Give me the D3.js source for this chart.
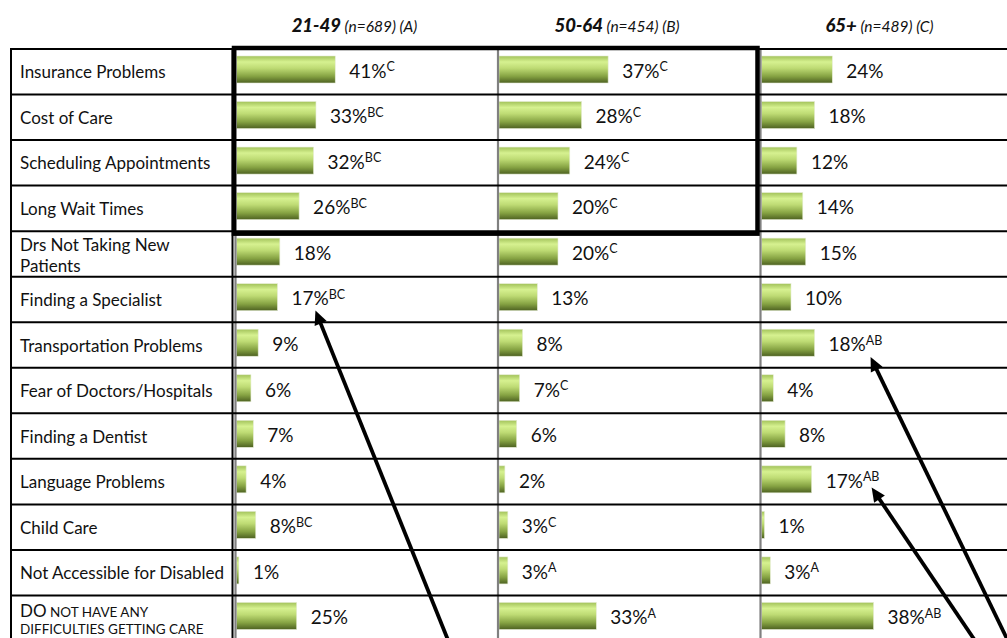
<!DOCTYPE html>
<html><head><meta charset="utf-8">
<script src="https://cdn.jsdelivr.net/npm/d3@7"></script>
<style>
body{margin:0;background:#fff;}
svg{display:block;font-family:Lato, "Open Sans", sans-serif;}
</style>
</head><body>
<svg id="chart" width="1007" height="638"></svg>
<script>
// ---------- data ----------
const categories = [
  "Insurance Problems",
  "Cost of Care",
  "Scheduling Appointments",
  "Long Wait Times",
  "Drs Not Taking New\nPatients",
  "Finding a Specialist",
  "Transportation Problems",
  "Fear of Doctors/Hospitals",
  "Finding a Dentist",
  "Language Problems",
  "Child Care",
  "Not Accessible for Disabled",
  "DO NOT HAVE ANY\nDIFFICULTIES GETTING CARE"
];
const groups = ["21-49", "50-64", "65+"];
const groupNotes = ["(n=689) (A)", "(n=454) (B)", "(n=489) (C)"];
const valuesA = [41, 33, 32, 26, 18, 17, 9, 6, 7, 4, 8, 1, 25];
const valuesB = [37, 28, 24, 20, 20, 13, 8, 7, 6, 2, 3, 3, 33];
const valuesC = [24, 18, 12, 14, 15, 10, 18, 4, 8, 17, 1, 3, 38];
const sigA = ["C", "BC", "BC", "BC", "", "BC", "", "", "", "", "BC", "", ""];
const sigB = ["C", "C", "C", "C", "C", "", "", "C", "", "", "C", "A", "A"];
const sigC = ["", "", "", "", "", "", "AB", "", "", "AB", "", "A", "AB"];
const axisMax = [109, 89, 89];
const highlightRows = 4;               // first four rows boxed for groups A and B
const annotations = [
  { category: "Finding a Specialist", group: "21-49", dx: 24, dy: 11, tail: [450, 645] },
  { category: "Transportation Problems", group: "65+", dx: 42, dy: 12, tail: [1010, 645] },
  { category: "Language Problems", group: "65+", dx: 46, dy: 6, tail: [978, 645] }
];
const seriesValues = [valuesA, valuesB, valuesC];
const seriesSig = [sigA, sigB, sigC];

// ---------- layout ----------
const svg = d3.select("#chart");
const tableLeft = 11, labelRight = 232.5, tableTop = 49, tableBottom = 641, W = 1007;

const y = d3.scaleBand().domain(categories).range([tableTop, tableBottom]);
const xCol = d3.scaleBand().domain(groups).range([236.5, 1024]);
const xVal = groups.map((g, i) => d3.scaleLinear().domain([0, axisMax[i]]).range([0, xCol.bandwidth()]));

// gradient
const defs = svg.append("defs");
const grad = defs.append("linearGradient").attr("id", "barGrad")
  .attr("x1", 0).attr("y1", 0).attr("x2", 0).attr("y2", 1);
[[0, "#a2c25a"], [0.22, "#d6f190"], [0.45, "#bedb74"], [0.75, "#86a343"], [1, "#4d6121"]]
  .forEach(([o, c]) => grad.append("stop").attr("offset", o).attr("stop-color", c));

// bars
groups.forEach((g, gi) => {
  const rows = categories.map((c, i) => ({ c, v: seriesValues[gi][i], s: seriesSig[gi][i] }));
  const gg = svg.append("g");
  gg.selectAll("rect").data(rows).join("rect")
    .attr("x", xCol(g))
    .attr("y", d => y(d.c) + 7)
    .attr("width", d => xVal[gi](d.v))
    .attr("height", 27)
    .attr("fill", "url(#barGrad)")
    .attr("stroke", "#e4ecd2").attr("stroke-width", 0.6);

  const t = gg.selectAll("text").data(rows).join("text")
    .attr("x", d => xCol(g) + xVal[gi](d.v) + 14)
    .attr("y", d => y(d.c) + y.bandwidth() / 2 + 6)
    .attr("font-size", 19).attr("fill", "#111");
  t.append("tspan").text(d => d.v + "%");
  t.filter(d => d.s).append("tspan").attr("font-size", 12.5).attr("dy", -6.5).text(d => d.s);
});

// gray axis lines per group
svg.append("g").selectAll("line").data(groups).join("line")
  .attr("x1", g => xCol(g) - 1).attr("x2", g => xCol(g) - 1)
  .attr("y1", tableTop).attr("y2", tableBottom)
  .attr("stroke", "#808080").attr("stroke-width", 2.2);

// horizontal row lines
const bounds = categories.map(c => y(c)).concat([tableBottom]);
svg.append("g").selectAll("line").data(bounds).join("line")
  .attr("x1", tableLeft).attr("x2", W + 5)
  .attr("y1", d => d).attr("y2", d => d)
  .attr("stroke", "#000").attr("stroke-width", 2);

// label column borders
svg.append("g").selectAll("line").data([tableLeft, labelRight]).join("line")
  .attr("x1", d => d).attr("x2", d => d)
  .attr("y1", tableTop - 1).attr("y2", tableBottom)
  .attr("stroke", "#000").attr("stroke-width", 2);

// highlight box
const boxTop = y(categories[0]) - 1;
const boxBottom = y(categories[highlightRows]) + 2.5;
svg.append("rect")
  .attr("x", xCol(groups[0]) - 2.5)
  .attr("y", boxTop)
  .attr("width", (xCol(groups[2]) - 4) - (xCol(groups[0]) - 2.5))
  .attr("height", boxBottom - boxTop)
  .attr("fill", "none").attr("stroke", "#000").attr("stroke-width", 4.5);

// category labels
svg.append("g").selectAll("text").data(categories).join("text")
  .attr("x", 20).attr("font-size", 17).attr("fill", "#111")
  .each(function (c) {
    const el = d3.select(this);
    const cy = y(c) + y.bandwidth() / 2;
    const lines = c.split("\n");
    if (lines.length === 1) {
      el.attr("y", cy + 6.5).text(c);
    } else if (c === c.toUpperCase()) {
      el.attr("y", cy - 1.5);
      const first = lines[0].split(" ");
      el.append("tspan").attr("font-size", 17).text(first[0]);
      el.append("tspan").attr("font-size", 13.5).text(" " + first.slice(1).join(" "));
      el.append("tspan").attr("x", 20).attr("y", cy + 15.5).attr("font-size", 13.5).text(lines[1]);
    } else {
      el.append("tspan").attr("x", 20).attr("y", cy - 2.5).text(lines[0]);
      el.append("tspan").attr("x", 20).attr("y", cy + 18.5).text(lines[1]);
    }
  });

// headers
const hdr = svg.append("g").selectAll("text").data(groups).join("text")
  .attr("x", g => xCol(g) + 118).attr("y", 32)
  .attr("text-anchor", "middle").attr("fill", "#111").attr("font-style", "italic");
hdr.append("tspan").attr("font-weight", 900).attr("font-size", 18.5).text(g => g);
hdr.append("tspan").attr("font-size", 15.5).text((g, i) => " " + groupNotes[i]);

// annotation arrows
const arrows = svg.append("g");
annotations.forEach(a => {
  const gi = groups.indexOf(a.group);
  const ci = categories.indexOf(a.category);
  const lx = xCol(a.group) + xVal[gi](seriesValues[gi][ci]) + 14;
  const tip = [lx + a.dx, y(a.category) + y.bandwidth() / 2 + a.dy];
  const [tx, ty] = a.tail;
  const len = Math.hypot(tip[0] - tx, tip[1] - ty);
  const ux = (tip[0] - tx) / len, uy = (tip[1] - ty) / len;
  const headLen = 14, headW = 6.5;
  const bx = tip[0] - ux * headLen, by = tip[1] - uy * headLen;
  arrows.append("line")
    .attr("x1", tx).attr("y1", ty).attr("x2", bx + ux * 2).attr("y2", by + uy * 2)
    .attr("stroke", "#000").attr("stroke-width", 3.8);
  arrows.append("path")
    .attr("d", d3.line()([
      tip,
      [bx - uy * headW, by + ux * headW],
      [bx + uy * headW, by - ux * headW]
    ]) + "Z")
    .attr("fill", "#000");
});
</script>
</body></html>
